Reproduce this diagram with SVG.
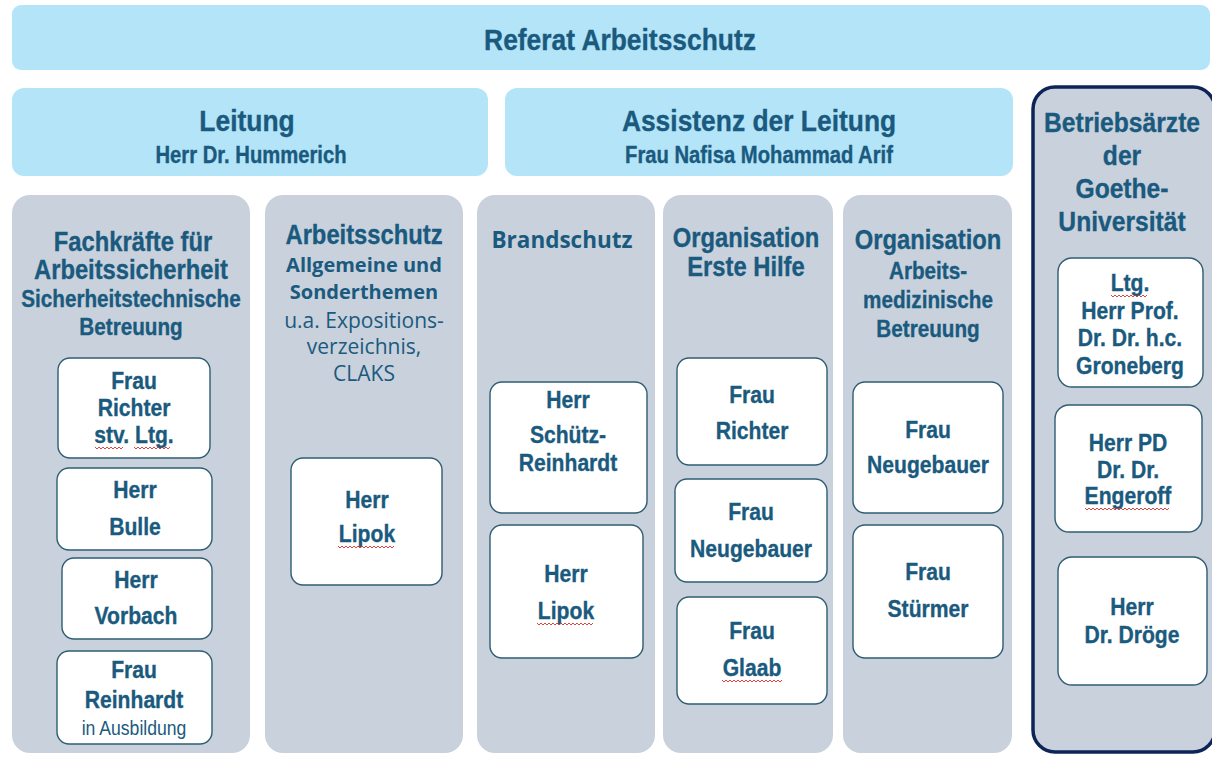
<svg xmlns="http://www.w3.org/2000/svg" width="1212" height="761" viewBox="0 0 1212 761">
  <style>
    .hdr { fill: #b4e4f8; }
    .col { fill: #c9d1dc; }
    .card { fill: #ffffff; stroke: #2e5d73; stroke-width: 1.4; }
    .t { font-family: "Liberation Sans", Arial, sans-serif; font-weight: bold; fill: #1a5a7e; stroke: #1a5a7e; stroke-width: 0.35; text-anchor: middle; }
    .c { font-family: "Open Sans", "Liberation Sans", sans-serif; fill: #1a5a7e; text-anchor: middle; }
    .cb { font-weight: bold; }
    .reg { font-weight: normal; stroke: none; }
    .h1 { font-size: 30px; }
    .h2 { font-size: 30px; }
    .h2s { font-size: 23px; }
    .ct { font-size: 27px; }
    .ba { font-size: 28px; }
    .cs { font-size: 23.5px; }
    .nm { font-size: 24px; }
    .sq { fill: none; stroke: #d9302c; stroke-width: 0.9; }
  </style>

  <rect width="1212" height="761" fill="#ffffff"/>

  <g id="referat">
    <rect class="hdr" x="12" y="5" width="1198" height="65" rx="9"/>
    <text class="t h1" transform="translate(620 50) scale(0.88 1)">Referat Arbeitsschutz</text>
  </g>

  <g id="leitung">
    <rect class="hdr" x="12" y="88" width="476" height="88" rx="12"/>
    <text class="t h2" transform="translate(247 131) scale(0.88 1)">Leitung</text>
    <text class="t h2s" transform="translate(251 163) scale(0.88 1)">Herr Dr. Hummerich</text>
  </g>

  <g id="assistenz">
    <rect class="hdr" x="505" y="88" width="508" height="88" rx="12"/>
    <text class="t h2" transform="translate(759 131) scale(0.88 1)">Assistenz der Leitung</text>
    <text class="t h2s" transform="translate(759 163) scale(0.88 1)">Frau Nafisa Mohammad Arif</text>
  </g>

  <!-- Fachkräfte für Arbeitssicherheit -->
  <g id="fachkraefte">
    <rect class="col" x="12" y="195" width="238" height="558" rx="18"/>
    <text class="t ct" transform="translate(133 251) scale(0.88 1)">Fachkräfte für</text>
    <text class="t ct" transform="translate(131 279) scale(0.88 1)">Arbeitssicherheit</text>
    <text class="t cs" transform="translate(131 307) scale(0.88 1)">Sicherheitstechnische</text>
    <text class="t cs" transform="translate(131 335) scale(0.88 1)">Betreuung</text>
  </g>
  <g id="fk-richter">
    <rect class="card" x="58" y="358" width="152" height="100" rx="12"/>
    <text class="t nm" transform="translate(134 389) scale(0.88 1)">Frau</text>
    <text class="t nm" transform="translate(134 416) scale(0.88 1)">Richter</text>
    <text class="t nm" transform="translate(134 443) scale(0.88 1)">stv. Ltg.</text>
    <path class="sq" d="M95 447 l2 2 l2 -2 l2 2 l2 -2 l2 2 l2 -2 l2 2 l2 -2 l2 2 l2 -2 l2 2 l2 -2 l2 2 l2 -2 M134 447 l2 2 l2 -2 l2 2 l2 -2 l2 2 l2 -2 l2 2 l2 -2 l2 2 l2 -2 l2 2 l2 -2 l2 2 l2 -2 l2 2 l2 -2 l2 2 l2 -2"/>
  </g>
  <g id="fk-bulle">
    <rect class="card" x="57" y="468" width="155" height="82" rx="12"/>
    <text class="t nm" transform="translate(135 498) scale(0.88 1)">Herr</text>
    <text class="t nm" transform="translate(135 535) scale(0.88 1)">Bulle</text>
  </g>
  <g id="fk-vorbach">
    <rect class="card" x="62" y="558" width="150" height="81" rx="12"/>
    <text class="t nm" transform="translate(136 588) scale(0.88 1)">Herr</text>
    <text class="t nm" transform="translate(136 624) scale(0.88 1)">Vorbach</text>
  </g>
  <g id="fk-reinhardt">
    <rect class="card" x="57" y="651" width="155" height="93" rx="12"/>
    <text class="t nm" transform="translate(134 678) scale(0.88 1)">Frau</text>
    <text class="t nm" transform="translate(134 708) scale(0.88 1)">Reinhardt</text>
    <text class="t reg" font-size="20" transform="translate(134 735) scale(0.88 1)">in Ausbildung</text>
  </g>

  <!-- Arbeitsschutz allgemein -->
  <g id="arbeitsschutz">
    <rect class="col" x="265" y="195" width="198" height="558" rx="18"/>
    <text class="t ct" transform="translate(364 244) scale(0.88 1)">Arbeitsschutz</text>
    <text class="c cb" x="364" y="272" font-size="20">Allgemeine und</text>
    <text class="c cb" x="364" y="299" font-size="20">Sonderthemen</text>
    <text class="c" x="364" y="328" font-size="21">u.a. Expositions-</text>
    <text class="c" x="364" y="354" font-size="21">verzeichnis,</text>
    <text class="c" x="364" y="381" font-size="21">CLAKS</text>
  </g>
  <g id="as-lipok">
    <rect class="card" x="291" y="458" width="151" height="127" rx="12"/>
    <text class="t nm" transform="translate(367 508) scale(0.88 1)">Herr</text>
    <text class="t nm" transform="translate(367 542) scale(0.88 1)">Lipok</text>
    <path class="sq" d="M338 546 l2 2 l2 -2 l2 2 l2 -2 l2 2 l2 -2 l2 2 l2 -2 l2 2 l2 -2 l2 2 l2 -2 l2 2 l2 -2 l2 2 l2 -2 l2 2 l2 -2 l2 2 l2 -2 l2 2 l2 -2 l2 2 l2 -2 l2 2 l2 -2 l2 2 l2 -2"/>
  </g>

  <!-- Brandschutz -->
  <g id="brandschutz">
    <rect class="col" x="477" y="195" width="178" height="558" rx="18"/>
    <text class="c cb" x="562" y="248" font-size="22.5">Brandschutz</text>
  </g>
  <g id="bs-schuetz">
    <rect class="card" x="490" y="382" width="157" height="131" rx="12"/>
    <text class="t nm" transform="translate(568 408) scale(0.88 1)">Herr</text>
    <text class="t nm" transform="translate(568 443) scale(0.88 1)">Schütz-</text>
    <text class="t nm" transform="translate(568 471) scale(0.88 1)">Reinhardt</text>
  </g>
  <g id="bs-lipok">
    <rect class="card" x="490" y="525" width="153" height="133" rx="12"/>
    <text class="t nm" transform="translate(566 582) scale(0.88 1)">Herr</text>
    <text class="t nm" transform="translate(566 619) scale(0.88 1)">Lipok</text>
    <path class="sq" d="M537 623 l2 2 l2 -2 l2 2 l2 -2 l2 2 l2 -2 l2 2 l2 -2 l2 2 l2 -2 l2 2 l2 -2 l2 2 l2 -2 l2 2 l2 -2 l2 2 l2 -2 l2 2 l2 -2 l2 2 l2 -2 l2 2 l2 -2 l2 2 l2 -2 l2 2 l2 -2"/>
  </g>

  <!-- Organisation Erste Hilfe -->
  <g id="erste-hilfe">
    <rect class="col" x="663" y="195" width="170" height="558" rx="18"/>
    <text class="t ct" transform="translate(746 247) scale(0.88 1)">Organisation</text>
    <text class="t ct" transform="translate(746 276) scale(0.88 1)">Erste Hilfe</text>
  </g>
  <g id="eh-richter">
    <rect class="card" x="677" y="358" width="150" height="107" rx="12"/>
    <text class="t nm" transform="translate(752 403) scale(0.88 1)">Frau</text>
    <text class="t nm" transform="translate(752 439) scale(0.88 1)">Richter</text>
  </g>
  <g id="eh-neugebauer">
    <rect class="card" x="675" y="479" width="152" height="103" rx="12"/>
    <text class="t nm" transform="translate(751 520) scale(0.88 1)">Frau</text>
    <text class="t nm" transform="translate(751 557) scale(0.88 1)">Neugebauer</text>
  </g>
  <g id="eh-glaab">
    <rect class="card" x="677" y="597" width="150" height="107" rx="12"/>
    <text class="t nm" transform="translate(752 639) scale(0.88 1)">Frau</text>
    <text class="t nm" transform="translate(752 676) scale(0.88 1)">Glaab</text>
    <path class="sq" d="M722 680 l2 2 l2 -2 l2 2 l2 -2 l2 2 l2 -2 l2 2 l2 -2 l2 2 l2 -2 l2 2 l2 -2 l2 2 l2 -2 l2 2 l2 -2 l2 2 l2 -2 l2 2 l2 -2 l2 2 l2 -2 l2 2 l2 -2 l2 2 l2 -2 l2 2 l2 -2 l2 2 l2 -2"/>
  </g>

  <!-- Organisation arbeitsmedizinische Betreuung -->
  <g id="arbeitsmedizin">
    <rect class="col" x="843" y="195" width="169" height="558" rx="18"/>
    <text class="t ct" transform="translate(928 249) scale(0.88 1)">Organisation</text>
    <text class="t cs" transform="translate(928 279) scale(0.88 1)">Arbeits-</text>
    <text class="t cs" transform="translate(928 308) scale(0.88 1)">medizinische</text>
    <text class="t cs" transform="translate(928 337) scale(0.88 1)">Betreuung</text>
  </g>
  <g id="am-neugebauer">
    <rect class="card" x="853" y="382" width="150" height="131" rx="12"/>
    <text class="t nm" transform="translate(928 438) scale(0.88 1)">Frau</text>
    <text class="t nm" transform="translate(928 473) scale(0.88 1)">Neugebauer</text>
  </g>
  <g id="am-stuermer">
    <rect class="card" x="853" y="525" width="150" height="133" rx="12"/>
    <text class="t nm" transform="translate(928 580) scale(0.88 1)">Frau</text>
    <text class="t nm" transform="translate(928 617) scale(0.88 1)">Stürmer</text>
  </g>

  <!-- Betriebsärzte der Goethe-Universität -->
  <g id="betriebsaerzte">
    <rect x="1033" y="87" width="182" height="665" rx="22" fill="#c9d1dc" stroke="#0e2457" stroke-width="3.5"/>
    <text class="t ba" transform="translate(1122 132) scale(0.88 1)">Betriebsärzte</text>
    <text class="t ba" transform="translate(1122 165) scale(0.88 1)">der</text>
    <text class="t ba" transform="translate(1122 198) scale(0.88 1)">Goethe-</text>
    <text class="t ba" transform="translate(1122 231) scale(0.88 1)">Universität</text>
  </g>
  <g id="ba-groneberg">
    <rect class="card" x="1058" y="258" width="145" height="129" rx="14"/>
    <text class="t nm" transform="translate(1130 291) scale(0.88 1)">Ltg.</text>
    <text class="t nm" transform="translate(1130 319) scale(0.88 1)">Herr Prof.</text>
    <text class="t nm" transform="translate(1130 346) scale(0.88 1)">Dr. Dr. h.c.</text>
    <text class="t nm" transform="translate(1130 374) scale(0.88 1)">Groneberg</text>
    <path class="sq" d="M1111 295 l2 2 l2 -2 l2 2 l2 -2 l2 2 l2 -2 l2 2 l2 -2 l2 2 l2 -2 l2 2 l2 -2 l2 2 l2 -2 l2 2 l2 -2 l2 2 l2 -2"/>
  </g>
  <g id="ba-engeroff">
    <rect class="card" x="1055" y="405" width="147" height="127" rx="14"/>
    <text class="t nm" transform="translate(1128 451) scale(0.88 1)">Herr PD</text>
    <text class="t nm" transform="translate(1128 478) scale(0.88 1)">Dr. Dr.</text>
    <text class="t nm" transform="translate(1128 504) scale(0.88 1)">Engeroff</text>
    <path class="sq" d="M1085 508 l2 2 l2 -2 l2 2 l2 -2 l2 2 l2 -2 l2 2 l2 -2 l2 2 l2 -2 l2 2 l2 -2 l2 2 l2 -2 l2 2 l2 -2 l2 2 l2 -2 l2 2 l2 -2 l2 2 l2 -2 l2 2 l2 -2 l2 2 l2 -2 l2 2 l2 -2 l2 2 l2 -2 l2 2 l2 -2 l2 2 l2 -2 l2 2 l2 -2 l2 2 l2 -2 l2 2 l2 -2 l2 2 l2 -2"/>
  </g>
  <g id="ba-droege">
    <rect class="card" x="1058" y="557" width="149" height="128" rx="14"/>
    <text class="t nm" transform="translate(1132 615) scale(0.88 1)">Herr</text>
    <text class="t nm" transform="translate(1132 643) scale(0.88 1)">Dr. Dröge</text>
  </g>

  <g id="connectors"></g>
</svg>
